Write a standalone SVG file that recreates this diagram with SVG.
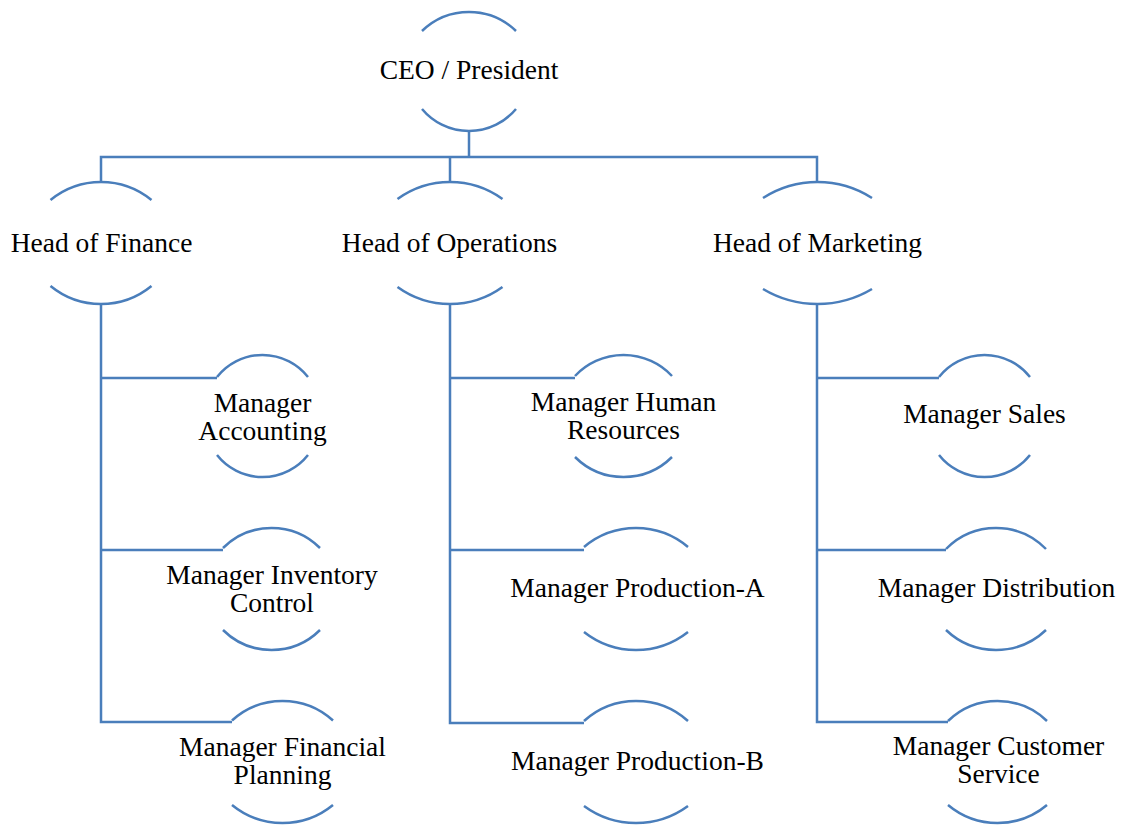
<svg xmlns="http://www.w3.org/2000/svg" width="1122" height="825" viewBox="0 0 1122 825">
<style>
.arc{fill:none;stroke:#4A7EBB;stroke-width:2.5}
.con{fill:none;stroke:#4A7EBB;stroke-width:2.5}
text{font-family:"Liberation Serif","DejaVu Serif",serif;font-size:27.5px;fill:#000;text-anchor:middle}
</style>
<rect width="1122" height="825" fill="#fff"/>
<g id="connectors" class="con">
<path d="M469,131 V157"/>
<path d="M101,182 V157 H817 V182"/>
<path d="M450,157 V182"/>
<path d="M101,304 V722 H232"/>
<path d="M101,378 H217"/>
<path d="M101,550 H223"/>
<path d="M450,304 V723 H584"/>
<path d="M450,378 H575"/>
<path d="M450,550 H584"/>
<path d="M817,304 V722 H948"/>
<path d="M817,378 H939"/>
<path d="M817,550 H946"/>
</g>
<g id="ceo">
<path class="arc" d="M422,31 A67.6,67.6 0 0 1 516,31"/>
<path class="arc" d="M422,109 A61.2,61.2 0 0 0 516,109"/>
<text x="469" y="79">CEO / President</text>
</g>
<g id="head-finance">
<path class="arc" d="M50.5,200 A79.8,79.8 0 0 1 151.5,200"/>
<path class="arc" d="M50.5,286 A79.8,79.8 0 0 0 151.5,286"/>
<text x="101.5" y="252">Head of Finance</text>
</g>
<g id="head-operations">
<path class="arc" d="M397.5,199 A89.6,89.6 0 0 1 502.5,199"/>
<path class="arc" d="M397.5,287 A89.6,89.6 0 0 0 502.5,287"/>
<text x="449.5" y="252">Head of Operations</text>
</g>
<g id="head-marketing">
<path class="arc" d="M763,198 A100.8,100.8 0 0 1 872,198"/>
<path class="arc" d="M763,289 A106.5,106.5 0 0 0 872,289"/>
<text x="817.5" y="252">Head of Marketing</text>
</g>
<g id="mgr-accounting">
<path class="arc" d="M217,377 A58,58 0 0 1 308,377"/>
<path class="arc" d="M217,455 A58,58 0 0 0 308,455"/>
<text x="262.5" y="411.5"><tspan x="262.5">Manager</tspan><tspan x="262.5" dy="28">Accounting</tspan></text>
</g>
<g id="mgr-inventory">
<path class="arc" d="M223,548 A68.8,68.8 0 0 1 320,548"/>
<path class="arc" d="M223,630 A68.8,68.8 0 0 0 320,630"/>
<text x="272" y="583.5"><tspan x="272">Manager Inventory</tspan><tspan x="272" dy="28">Control</tspan></text>
</g>
<g id="mgr-financial-planning">
<path class="arc" d="M232,720.5 A75.1,75.1 0 0 1 333,720.5"/>
<path class="arc" d="M232,805 A79.8,79.8 0 0 0 333,805"/>
<text x="282.5" y="756"><tspan x="282.5">Manager Financial</tspan><tspan x="282.5" dy="28">Planning</tspan></text>
</g>
<g id="mgr-hr">
<path class="arc" d="M575,376 A66.5,66.5 0 0 1 672,376"/>
<path class="arc" d="M575,457 A68.8,68.8 0 0 0 672,457"/>
<text x="623.5" y="411"><tspan x="623.5">Manager Human</tspan><tspan x="623.5" dy="28">Resources</tspan></text>
</g>
<g id="mgr-production-a">
<path class="arc" d="M584,547 A80.7,80.7 0 0 1 688,547"/>
<path class="arc" d="M584,632 A84.1,84.1 0 0 0 688,632"/>
<text x="637.5" y="597">Manager Production-A</text>
</g>
<g id="mgr-production-b">
<path class="arc" d="M584,721 A77.6,77.6 0 0 1 688,721"/>
<path class="arc" d="M584,806 A88,88 0 0 0 688,806"/>
<text x="637.5" y="770">Manager Production-B</text>
</g>
<g id="mgr-sales">
<path class="arc" d="M939,377 A58,58 0 0 1 1030,377"/>
<path class="arc" d="M939,455 A58,58 0 0 0 1030,455"/>
<text x="984.5" y="423">Manager Sales</text>
</g>
<g id="mgr-distribution">
<path class="arc" d="M946,549 A70,70 0 0 1 1046,549"/>
<path class="arc" d="M946,630 A72.5,72.5 0 0 0 1046,630"/>
<text x="996.5" y="597">Manager Distribution</text>
</g>
<g id="mgr-customer-service">
<path class="arc" d="M948,721 A71.3,71.3 0 0 1 1047,721"/>
<path class="arc" d="M948,805 A77.1,77.1 0 0 0 1047,805"/>
<text x="998.5" y="755"><tspan x="998.5">Manager Customer</tspan><tspan x="998.5" dy="28">Service</tspan></text>
</g>
</svg>
